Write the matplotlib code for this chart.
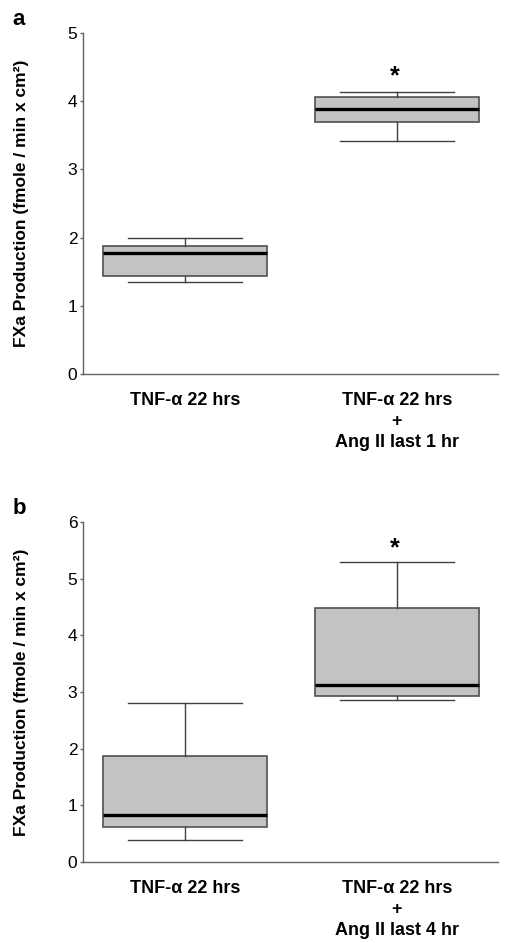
import numpy as np
import matplotlib
matplotlib.use("Agg")
import matplotlib.pyplot as plt

plt.rcParams["font.family"] = ["Liberation Sans", "DejaVu Sans"]
plt.rcParams["font.size"] = 12

# Box statistics (whislo, q1, median, q3, whishi)
groups_a = ["TNF-\u03b1 22 hrs", "TNF-\u03b1 22 hrs\n+\nAng II last 1 hr"]
whislo_a = [1.35, 3.41]
q1_a = [1.44, 3.69]
med_a = [1.78, 3.88]
q3_a = [1.87, 4.06]
whishi_a = [2.00, 4.13]

groups_b = ["TNF-\u03b1 22 hrs", "TNF-\u03b1 22 hrs\n+\nAng II last 4 hr"]
whislo_b = [0.39, 2.86]
q1_b = [0.62, 2.93]
med_b = [0.83, 3.12]
q3_b = [1.87, 4.48]
whishi_b = [2.80, 5.29]

star_a = 4.37
star_b = 5.54

ylabel = "FXa Production (fmole / min x cm\u00b2)"

fig = plt.figure(figsize=(5.06, 9.43), dpi=100)
ax_a = fig.add_axes([0.164, 0.6034, 0.820, 0.3616])
ax_b = fig.add_axes([0.164, 0.0859, 0.820, 0.3606])


def draw_panel(ax, labels, wlo, q1, med, q3, whi, ymax, star_y, letter):
    stats = []
    for i in range(len(labels)):
        stats.append(dict(whislo=wlo[i], q1=q1[i], med=med[i], q3=q3[i],
                          whishi=whi[i], fliers=[], label=labels[i]))
    ax.bxp(stats, positions=[1, 2], widths=0.77, capwidths=0.54,
           showfliers=False, patch_artist=True,
           boxprops=dict(facecolor="#c3c3c3", edgecolor="#505050", linewidth=1.2),
           medianprops=dict(color="black", linewidth=2.4),
           whiskerprops=dict(color="#404040", linewidth=1.0),
           capprops=dict(color="#404040", linewidth=1.0))
    ax.set_xlim(0.519, 2.476)
    ax.set_ylim(0, ymax)
    ax.set_yticks(range(0, ymax + 1))
    for s in ["top", "right"]:
        ax.spines[s].set_visible(False)
    for s in ["left", "bottom"]:
        ax.spines[s].set_color("#606060")
        ax.spines[s].set_linewidth(1.0)
    ax.tick_params(axis="y", length=2, width=1, color="#606060", labelsize=12.5, pad=2)
    ax.tick_params(axis="x", length=0, pad=13)
    for t in ax.get_xticklabels():
        t.set_fontweight("bold")
        t.set_fontsize(13)
        t.set_linespacing(1.32)
    ax.text(1.99, star_y, "*", ha="center", va="center", fontsize=18, fontweight="bold")
    ax.set_ylabel(ylabel, fontweight="bold", fontsize=12.5, labelpad=28)
    ax.text(-0.17, 1.07, letter, transform=ax.transAxes, fontsize=16,
            fontweight="bold", ha="left", va="top")


draw_panel(ax_a, groups_a, whislo_a, q1_a, med_a, q3_a, whishi_a, 5, star_a, "a")
draw_panel(ax_b, groups_b, whislo_b, q1_b, med_b, q3_b, whishi_b, 6, star_b, "b")

fig.savefig("out.png", dpi=100)
